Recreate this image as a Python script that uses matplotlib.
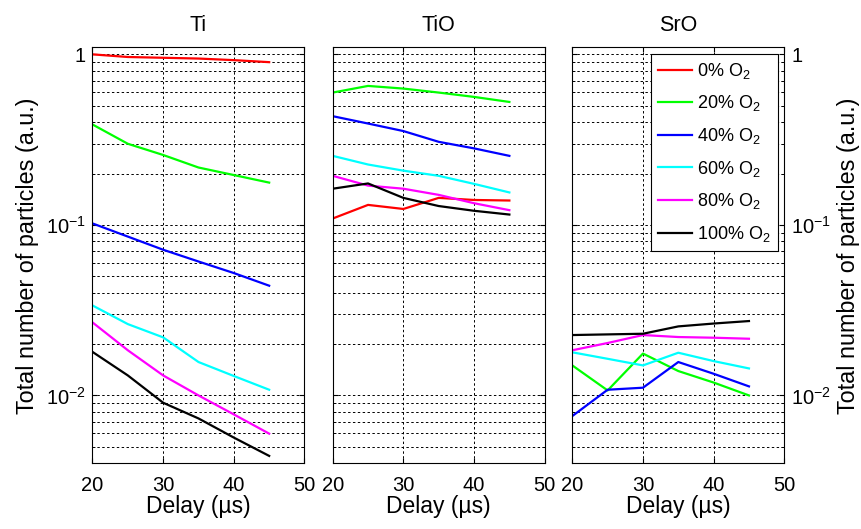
import numpy as np
import matplotlib
matplotlib.use('Agg')
from matplotlib import pyplot as plt

plt.rcParams['font.family'] = ['Liberation Sans', 'DejaVu Sans']
plt.rcParams['mathtext.fontset'] = 'custom'
plt.rcParams['mathtext.rm'] = 'Liberation Sans'
plt.rcParams['mathtext.it'] = 'Liberation Sans:italic'

delay = [20, 25, 30, 35, 40, 45]
oxygen = ['0', '20', '40', '60', '80', '100']
colors = ['#ff0000', '#00ff00', '#0000ff', '#00ffff', '#ff00ff', '#000000']

ti = [
    [1.0, 0.965, 0.955, 0.945, 0.925, 0.90],
    [0.388, 0.299, 0.257, 0.217, 0.196, 0.177],
    [0.102, 0.0854, 0.0715, 0.061, 0.0522, 0.044],
    [0.0337, 0.0262, 0.0219, 0.0157, 0.0130, 0.0108],
    [0.0268, 0.0184, 0.0131, 0.0100, 0.00774, 0.00597],
    [0.018, 0.0131, 0.00906, 0.00733, 0.00566, 0.00442],
]
tio = [
    [0.109, 0.131, 0.124, 0.144, 0.140, 0.139],
    [0.597, 0.653, 0.630, 0.597, 0.563, 0.526],
    [0.434, 0.393, 0.355, 0.307, 0.281, 0.254],
    [0.254, 0.226, 0.208, 0.194, 0.174, 0.155],
    [0.194, 0.170, 0.163, 0.150, 0.134, 0.122],
    [0.163, 0.175, 0.144, 0.129, 0.121, 0.115],
]
sro = [
    [np.nan] * 6,
    [0.0150, 0.0107, 0.0176, 0.0139, 0.0119, 0.0100],
    [0.00757, 0.0108, 0.0111, 0.0157, 0.0134, 0.0113],
    [0.0179, 0.0164, 0.0150, 0.0178, 0.0159, 0.0144],
    [0.0184, 0.0203, 0.0226, 0.0220, 0.0218, 0.0215],
    [0.0226, 0.0228, 0.0230, 0.0254, 0.0264, 0.0273],
]
titles = ['Ti', 'TiO', 'SrO']
panels = [ti, tio, sro]

fig = plt.figure(figsize=(8.62, 5.29), dpi=100)
lefts = [92.5, 332.7, 572.3]
W, H = 862.0, 529.0

for k, (title, data) in enumerate(zip(titles, panels)):
    ax = fig.add_axes([lefts[k] / W, (529 - 463.3) / H, 212 / W, 416 / H])
    for i, vals in enumerate(data):
        ax.plot(delay, vals, color=colors[i], lw=1.6,
                label=oxygen[i] + '% O$_2$')
    ax.set_yscale('log')
    ax.set_xlim(20, 50)
    ax.set_ylim(0.004, 1.1)
    ax.set_xticks([20, 30, 40, 50])
    ax.set_yticks([0.01, 0.1, 1])
    ax.grid(True, which='major', axis='x', color='black', lw=0.7, ls=(0, (2.5, 2.5)))
    ax.grid(True, which='both', axis='y', color='black', lw=0.7, ls=(0, (2.5, 2.5)))
    ax.set_axisbelow(True)
    ax.tick_params(which='both', direction='in', top=True, right=True, labelsize=14.5)
    ax.tick_params(axis='x', pad=9)
    ax.tick_params(axis='y', pad=5)
    ax.set_title(title, fontsize=15.5, pad=12)
    ax.set_xlabel('Delay (\u00b5s)', fontsize=16.5, labelpad=0)
    for s in ax.spines.values():
        s.set_linewidth(0.8)
    if k == 0:
        ax.set_yticklabels(['$10^{-2}$', '$10^{-1}$', '1'])
        ax.set_ylabel('Total number of particles (a.u.)', fontsize=16.8, labelpad=5)
    elif k == 1:
        ax.set_yticklabels([])
    else:
        ax.yaxis.tick_right()
        ax.tick_params(which='both', left=True, direction='in')
        ax.set_yticklabels(['$10^{-2}$', '$10^{-1}$', '1'])
        ax.yaxis.set_label_position('right')
        ax.set_ylabel('Total number of particles (a.u.)', fontsize=16.8,
                      rotation=90, labelpad=4)
        leg = ax.legend(loc='upper right', fontsize=13, fancybox=False,
                        framealpha=1, edgecolor='black', handlelength=1.85,
                        handletextpad=0.3, borderaxespad=0.35, labelspacing=0.7)
        leg.get_frame().set_linewidth(0.8)

fig.savefig('out.png', dpi=100)
